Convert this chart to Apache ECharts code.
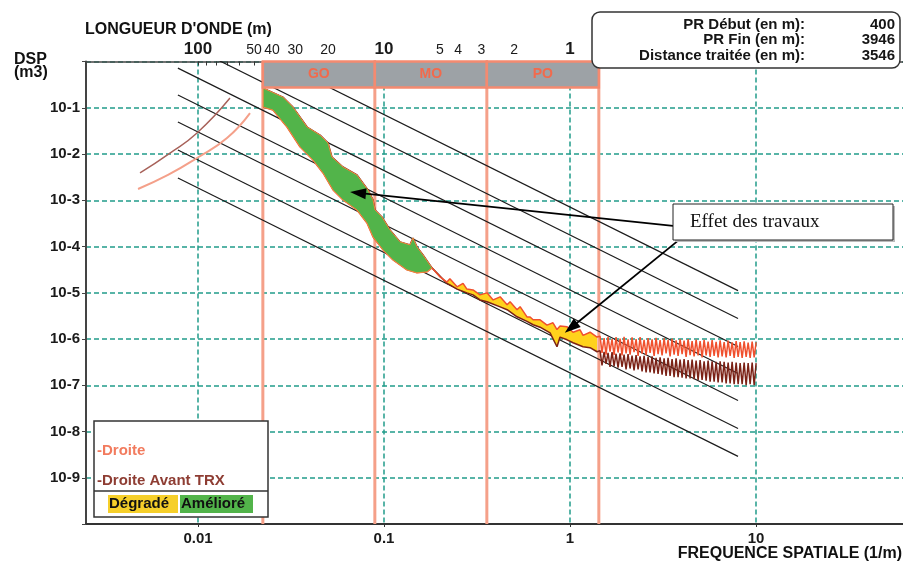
<!DOCTYPE html>
<html><head><meta charset="utf-8">
<script src="https://cdn.jsdelivr.net/npm/echarts@6/dist/echarts.min.js"></script>
<style>html,body{margin:0;padding:0;background:#fff}#c{width:903px;height:570px}</style>
</head><body><div id="c"></div>
<script>
// ---------- axes / ticks ----------
const bottomTickFreqs = [0.01, 0.1, 1, 10];
const topTickWavelengths = [100, 90, 80, 70, 60, 50, 40, 30, 20, 10, 9, 8, 7, 6, 5, 4, 3, 2, 1];
const topLabelWavelengths = [100, 50, 40, 30, 20, 10, 5, 4, 3, 2, 1];
const yExponents = [-1, -2, -3, -4, -5, -6, -7, -8, -9];
const bandEdgesWavelength = [44.8, 11.2, 2.8, 0.7];
const bandNames = ['GO', 'MO', 'PO'];

// ---------- reference lines (slope -2) ----------
const refLineF = [0.0078, 8.0];
const refLineStartDsp = [11.7, 2.90, 0.719, 0.188, 0.0491, 0.0122, 0.00303];
const refLineEndDsp = [1.11e-5, 2.77e-6, 6.87e-7, 1.79e-7, 4.69e-8, 1.16e-8, 2.9e-9];

// ---------- "Droite Avant TRX" (before works) ----------
const avantGreenF = [0.0224, 0.0286, 0.0324, 0.0386, 0.0453, 0.0500, 0.0525, 0.0602, 0.0716, 0.0820, 0.0873, 0.0895, 0.0975, 0.1077, 0.1219, 0.1379, 0.1432, 0.1504, 0.1621, 0.1811];
const avantGreenD = [0.266, 0.170, 0.1035, 0.0383, 0.0257, 0.0173, 0.00861, 0.00524, 0.00352, 0.00167, 0.001015, 0.000617, 0.000436, 0.000228, 0.000126, 0.0001083, 0.000153, 0.000098, 0.0000658, 0.0000345];
const avantYellowF = [0.1811, 0.218, 0.226, 0.247, 0.279, 0.301, 0.328, 0.358, 0.421, 0.459, 0.519, 0.587, 0.633, 0.690, 0.781, 0.851, 0.884, 0.964, 1.038, 1.175, 1.281, 1.397];
const avantYellowD = [3.45e-5, 1.6e-5, 1.48e-5, 1.2e-5, 9.95e-6, 9.0e-6, 7.0e-6, 6.4e-6, 4.96e-6, 4.3e-6, 3.02e-6, 2.4e-6, 2.03e-6, 1.8e-6, 1.36e-6, 6.8e-7, 1.1e-6, 9.6e-7, 8.3e-7, 6.8e-7, 6.5e-7, 5.3e-7];
const rightF = [1.450, 1.486, 1.524, 1.562, 1.601, 1.641, 1.682, 1.725, 1.768, 1.812,
  1.858, 1.904, 1.952, 2.001, 2.051, 2.103, 2.155, 2.209, 2.265, 2.322,
  2.380, 2.440, 2.501, 2.564, 2.628, 2.694, 2.761, 2.831, 2.901, 2.974,
  3.049, 3.125, 3.204, 3.284, 3.366, 3.451, 3.537, 3.626, 3.717, 3.810,
  3.906, 4.004, 4.104, 4.207, 4.313, 4.421, 4.532, 4.645, 4.762, 4.881,
  5.004, 5.129, 5.258, 5.390, 5.525, 5.664, 5.806, 5.951, 6.101, 6.254,
  6.411, 6.572, 6.737, 6.905, 7.079, 7.256, 7.438, 7.625, 7.816, 8.012,
  8.213, 8.419, 8.630, 8.847, 9.069, 9.296, 9.530, 9.769, 10.01];
const avantRightD = [5.6e-7, 2.7e-7, 5.3e-7, 2.9e-7, 5.0e-7, 2.5e-7, 5.2e-7, 2.6e-7, 4.8e-7, 2.4e-7,
  4.9e-7, 2.5e-7, 4.6e-7, 2.2e-7, 4.7e-7, 2.3e-7, 4.4e-7, 2.1e-7, 4.5e-7, 2.2e-7,
  4.2e-7, 2.0e-7, 4.3e-7, 1.9e-7, 4.1e-7, 1.9e-7, 4.2e-7, 1.8e-7, 3.9e-7, 1.75e-7,
  4.0e-7, 1.7e-7, 3.8e-7, 1.6e-7, 3.9e-7, 1.6e-7, 3.7e-7, 1.5e-7, 3.8e-7, 1.5e-7,
  3.6e-7, 1.45e-7, 3.7e-7, 1.4e-7, 3.5e-7, 1.4e-7, 3.6e-7, 1.35e-7, 3.4e-7, 1.3e-7,
  3.5e-7, 1.3e-7, 3.3e-7, 1.25e-7, 3.4e-7, 1.2e-7, 3.3e-7, 1.2e-7, 3.2e-7, 1.15e-7,
  3.3e-7, 1.15e-7, 3.2e-7, 1.1e-7, 3.1e-7, 1.1e-7, 3.2e-7, 1.05e-7, 3.1e-7, 1.05e-7,
  3.0e-7, 1.05e-7, 3.1e-7, 1.0e-7, 3.0e-7, 1.05e-7, 3.1e-7, 1.0e-7, 3.0e-7];

// ---------- "Droite" (after works) ----------
const droiteGreenF = [0.0224, 0.0253, 0.0301, 0.0354, 0.0415, 0.0470, 0.0532, 0.0602, 0.0716, 0.0810, 0.0873, 0.0988, 0.1118, 0.1329, 0.1504, 0.1702, 0.1811];
const droiteGreenD = [0.1035, 0.0892, 0.0383, 0.01417, 0.00742, 0.00389, 0.00167, 0.001015, 0.000617, 0.000323, 0.000161, 0.0000844, 0.0000513, 0.0000312, 0.0000269, 0.0000283, 0.0000345];
const droiteYellowF = [0.1811, 0.200, 0.218, 0.226, 0.247, 0.266, 0.279, 0.301, 0.328, 0.358, 0.386, 0.421, 0.459, 0.476, 0.519, 0.539, 0.587, 0.610, 0.633, 0.690, 0.752, 0.810, 0.851, 0.884, 0.964, 1.038, 1.132, 1.175, 1.281, 1.397];
const droiteYellowD = [3.45e-5, 2.2e-5, 1.7e-5, 2.0e-5, 1.34e-5, 1.6e-5, 1.2e-5, 1.15e-5, 9.0e-6, 9.95e-6, 7.0e-6, 8.15e-6, 5.5e-6, 6.4e-6, 4.3e-6, 5.0e-6, 3.0e-6, 3.0e-6, 2.6e-6, 2.6e-6, 2.0e-6, 2.24e-6, 1.6e-6, 1.9e-6, 1.83e-6, 1.4e-6, 1.58e-6, 1.2e-6, 1.4e-6, 1.1e-6];
const droiteRightD = [1.15e-6, 5.0e-7, 1.05e-6, 4.6e-7, 1.12e-6, 5.3e-7, 1.0e-6, 4.5e-7, 1.1e-6, 5.1e-7,
  1.02e-6, 4.4e-7, 1.12e-6, 4.9e-7, 9.8e-7, 4.6e-7, 1.08e-6, 5.2e-7, 1.0e-6, 4.3e-7,
  1.1e-6, 4.8e-7, 9.6e-7, 4.5e-7, 1.05e-6, 5.0e-7, 9.8e-7, 4.3e-7, 1.06e-6, 4.7e-7,
  9.5e-7, 4.4e-7, 1.04e-6, 4.9e-7, 9.6e-7, 4.2e-7, 1.02e-6, 4.6e-7, 9.3e-7, 4.3e-7,
  1.0e-6, 4.7e-7, 9.2e-7, 4.1e-7, 9.9e-7, 4.5e-7, 9.0e-7, 4.2e-7, 9.7e-7, 4.4e-7,
  9.0e-7, 4.0e-7, 9.6e-7, 4.4e-7, 8.8e-7, 4.1e-7, 9.5e-7, 4.3e-7, 8.7e-7, 4.0e-7,
  9.4e-7, 4.2e-7, 8.6e-7, 4.0e-7, 9.2e-7, 4.3e-7, 8.5e-7, 3.9e-7, 9.0e-7, 4.1e-7,
  8.6e-7, 3.9e-7, 8.9e-7, 4.1e-7, 8.4e-7, 3.9e-7, 8.8e-7, 4.0e-7, 8.5e-7];

// ---------- short curves at long wavelengths ----------
const droiteLowF = [0.00476, 0.0069, 0.00988, 0.01432, 0.01904];
const droiteLowD = [1.75e-3, 3.52e-3, 8.2e-3, 0.0222, 0.0768];
const avantLowF = [0.00488, 0.00707, 0.00988, 0.01486];
const avantLowD = [3.89e-3, 0.0105, 0.0284, 0.162];

// ---------- annotation arrows (tail -> tip) ----------
const arrowTailF = [3.58, 3.855];
const arrowTailD = [2.79e-4, 1.39e-4];
const arrowTipF = [0.0725, 1.0125];
const arrowTipD = [1.44e-3, 1.75e-6];

// ---------- info box ----------
const infoLabels = ['PR Début (en m):', 'PR Fin (en m):', 'Distance traitée (en m):'];
const infoValues = ['400', '3946', '3546'];

const L = Math.log10;
const pairs = (F, D) => F.map((f, i) => [L(f), L(D[i])]);
const FONT = '"Liberation Sans", Arial, sans-serif';
const X_MIN = -2.602, X_MAX = 1.790;
const GRID_COLOR = '#229c8a';
const SALMON = '#f5a089';
const C_DROITE = '#f0502e';
const C_AVANT = '#7b2216';

const avantAll = pairs(avantGreenF, avantGreenD).concat(pairs(avantYellowF, avantYellowD).slice(1), pairs(rightF, avantRightD));
const droiteAll = pairs(droiteGreenF, droiteGreenD).concat(pairs(droiteYellowF, droiteYellowD).slice(1), pairs(rightF, droiteRightD));
const greenPoly = pairs(avantGreenF, avantGreenD).concat(pairs(droiteGreenF, droiteGreenD).reverse());
const yellowPoly = pairs(droiteYellowF, droiteYellowD).concat(pairs(avantYellowF, avantYellowD).reverse());

function polySeries(poly, fill, stroke, z) {
  return {
    type: 'custom', coordinateSystem: 'cartesian2d', silent: true, z: z,
    data: [[X_MIN, -10]],
    renderItem: function (params, api) {
      return { type: 'polygon', shape: { points: poly.map(p => api.coord(p)) },
        style: { fill: fill, stroke: stroke, lineWidth: stroke ? 1 : 0 } };
    }
  };
}

const refSeries = refLineStartDsp.map((s, i) => ({
  type: 'line', silent: true, symbol: 'none', z: 1,
  data: [[L(refLineF[0]), L(s)], [L(refLineF[1]), L(refLineEndDsp[i])]],
  lineStyle: { color: '#1c1c1c', width: 1.2 }
}));

const bandLines = {
  type: 'custom', coordinateSystem: 'cartesian2d', silent: true, z: 1,
  data: [[X_MIN, -10]],
  renderItem: function (params, api) {
    const ch = bandEdgesWavelength.map(w => {
      const top = api.coord([L(1 / w), 0]);
      const bot = api.coord([L(1 / w), -10]);
      return { type: 'line', shape: { x1: top[0], y1: top[1], x2: bot[0], y2: bot[1] },
        style: { stroke: SALMON, lineWidth: 3 } };
    });
    return { type: 'group', children: ch };
  }
};

const bandHeader = {
  type: 'custom', coordinateSystem: 'cartesian2d', silent: true, z: 8, clip: false,
  data: [[X_MIN, -10]],
  renderItem: function (params, api) {
    const ch = [];
    for (let i = 0; i < bandNames.length; i++) {
      const a = api.coord([L(1 / bandEdgesWavelength[i]), 0]);
      const b = api.coord([L(1 / bandEdgesWavelength[i + 1]), 0]);
      ch.push({ type: 'rect', shape: { x: a[0], y: a[1], width: b[0] - a[0], height: 26 },
        style: { fill: '#9da2a6', stroke: '#f48a70', lineWidth: 2.5 } });
      ch.push({ type: 'text', x: (a[0] + b[0]) / 2, y: a[1] + 13,
        style: { text: bandNames[i], fill: '#f26a4c', font: 'bold 14px ' + FONT, align: 'center', verticalAlign: 'middle' } });
    }
    return { type: 'group', children: ch };
  }
};

const arrowSeries = {
  type: 'line', data: [], silent: true, z: 9,
  markLine: {
    silent: true, animation: false,
    symbol: ['none', 'triangle'], symbolSize: [11, 16],
    label: { show: false },
    lineStyle: { color: '#000', width: 1.8, type: 'solid' },
    data: arrowTipF.map((f, i) => [
      { coord: [L(arrowTailF[i]), L(arrowTailD[i])] },
      { coord: [L(f), L(arrowTipD[i])] }
    ])
  }
};

const t = (text, x, y, font, fill, align) => ({
  type: 'text', x: x, y: y, z: 100,
  style: { text: text, font: font, fill: fill || '#111', align: align || 'left', verticalAlign: 'middle' }
});

const graphics = [
  t("LONGUEUR D'ONDE (m)", 85, 30, 'bold 16px ' + FONT),
  t('DSP', 14, 60, 'bold 16px ' + FONT),
  t('(m3)', 14, 73, 'bold 16px ' + FONT),
  t('FREQUENCE SPATIALE (1/m)', 902, 554, 'bold 16px ' + FONT, '#111', 'right'),
  { type: 'rect', z: 99, shape: { x: 592, y: 12, width: 308, height: 56, r: 8 }, style: { fill: '#fff', stroke: '#333', lineWidth: 1.5 } },
  // legend
  { type: 'rect', z: 99, shape: { x: 94, y: 421, width: 174, height: 96 }, style: { fill: '#fff', stroke: '#333', lineWidth: 1.5 } },
  { type: 'line', z: 99, shape: { x1: 94, y1: 491, x2: 268, y2: 491 }, style: { stroke: '#333', lineWidth: 1.5 } },
  { type: 'rect', z: 99, shape: { x: 108, y: 495, width: 70, height: 18 }, style: { fill: '#f6cf2a' } },
  { type: 'rect', z: 99, shape: { x: 180, y: 495, width: 73, height: 18 }, style: { fill: '#52b44a' } },
  t('-Droite', 97, 451, 'bold 15px ' + FONT, '#f27b5e'),
  t('-Droite Avant TRX', 97, 481, 'bold 15px ' + FONT, '#8e3d33'),
  t('Dégradé', 109, 504, 'bold 15px ' + FONT, '#111'),
  t('Amélioré', 181, 504, 'bold 15px ' + FONT, '#111'),
  // annotation box
  { type: 'rect', z: 99, shape: { x: 675, y: 206, width: 220, height: 36 }, style: { fill: '#bbb' } },
  { type: 'rect', z: 99, shape: { x: 673, y: 204, width: 220, height: 36 }, style: { fill: '#fff', stroke: '#222', lineWidth: 1 } },
  t('Effet des travaux', 690, 222, '19px "Liberation Serif", "Times New Roman", serif', '#111')
];
infoLabels.forEach((s, i) => {
  graphics.push(t(s, 805, 25 + i * 15.3, 'bold 15px ' + FONT, '#151515', 'right'));
  graphics.push(t(infoValues[i], 895, 25 + i * 15.3, 'bold 15px ' + FONT, '#151515', 'right'));
});

const chart = echarts.init(document.getElementById('c'), null, { renderer: 'canvas' });
chart.setOption({
  animation: false,
  backgroundColor: '#fff',
  textStyle: { fontFamily: FONT },
  grid: { left: 86, right: 0, top: 61.5, bottom: 46, containLabel: false },
  xAxis: [
    {
      type: 'value', min: X_MIN, max: X_MAX, position: 'bottom',
      axisLine: { show: true, onZero: false, lineStyle: { color: '#333', width: 2 } },
      axisTick: { show: true, length: 3, customValues: bottomTickFreqs.map(L), lineStyle: { color: '#333' } },
      axisLabel: {
        customValues: bottomTickFreqs.map(L), margin: 7,
        formatter: v => String(Math.round(Math.pow(10, v) * 1000) / 1000),
        fontWeight: 'bold', fontSize: 15, color: '#1a1a1a', fontFamily: FONT
      },
      splitLine: { show: true, lineStyle: { color: GRID_COLOR, type: [5, 3], width: 1.5 } }
    },
    {
      type: 'value', min: X_MIN, max: X_MAX, position: 'top',
      axisLine: { show: true, onZero: false, lineStyle: { color: '#444', width: 1.5 } },
      axisTick: { show: true, inside: true, length: 4, customValues: topTickWavelengths.map(w => L(1 / w)), lineStyle: { color: '#333' } },
      axisLabel: {
        customValues: topLabelWavelengths.map(w => L(1 / w)), margin: 4, color: '#1a1a1a', fontFamily: FONT,
        formatter: v => {
          const w = Math.round(1 / Math.pow(10, v));
          return (w === 100 || w === 10 || w === 1) ? '{big|' + w + '}' : '{small|' + w + '}';
        },
        rich: {
          big: { fontSize: 17, fontWeight: 'bold', fontFamily: FONT, color: '#1a1a1a' },
          small: { fontSize: 14, fontFamily: FONT, color: '#1a1a1a' }
        }
      },
      splitLine: { show: false }
    }
  ],
  yAxis: {
    type: 'value', min: -10, max: 0, interval: 1,
    axisLine: { show: true, onZero: false, lineStyle: { color: '#444', width: 2 } },
    axisTick: { show: true, length: 4, lineStyle: { color: '#444' } },
    axisLabel: {
      formatter: v => (yExponents.indexOf(v) >= 0 ? '10' + v : ''),
      fontWeight: 'bold', fontSize: 15, color: '#1a1a1a', margin: 6, fontFamily: FONT
    },
    splitLine: { show: true, lineStyle: { color: GRID_COLOR, type: [5, 3], width: 1.5 } }
  },
  series: [].concat(
    refSeries,
    [
      bandLines,
      polySeries(yellowPoly, '#ffd21c', null, 2),
      { type: 'line', name: 'Droite Avant TRX', data: avantAll, symbol: 'none', z: 3, silent: true, lineStyle: { color: C_AVANT, width: 1.5 } },
      { type: 'line', name: 'Droite', data: droiteAll, symbol: 'none', z: 3, silent: true, lineStyle: { color: C_DROITE, width: 1.5 } },
      { type: 'line', data: pairs(droiteLowF, droiteLowD), symbol: 'none', smooth: true, z: 3, silent: true, lineStyle: { color: '#f4a08a', width: 2 } },
      { type: 'line', data: pairs(avantLowF, avantLowD), symbol: 'none', smooth: true, z: 3, silent: true, lineStyle: { color: '#a8625a', width: 1.5 } },
      polySeries(greenPoly, '#52b44a', '#f08a3c', 4),
      bandHeader,
      arrowSeries
    ]
  ),
  graphic: graphics
});
</script>
</body></html>
